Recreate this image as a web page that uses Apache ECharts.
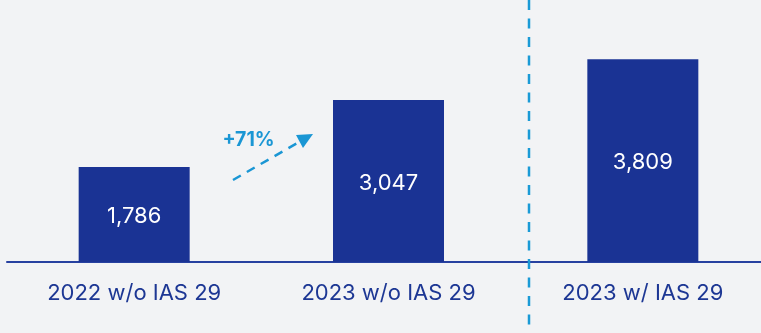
<!DOCTYPE html>
<html>
<head>
<meta charset="utf-8">
<script src="https://cdn.jsdelivr.net/npm/echarts@6/dist/echarts.min.js"></script>
<style>
html,body{margin:0;padding:0;background:#f2f3f5;}
#c{width:761px;height:333px;}
</style>
</head>
<body>
<div id="c"></div>
<script>
const categories = ['2022 w/o IAS 29', '2023 w/o IAS 29', '2023 w/ IAS 29'];
const values = [1786, 3047, 3809];
const growthLabel = '+71%';

const chart = echarts.init(document.getElementById('c'), null, {renderer: 'canvas'});
const FONT = 'Inter, "Noto Sans", sans-serif';
chart.setOption({
  backgroundColor: '#f2f3f5',
  animation: false,
  grid: {left: 7, width: 763, top: 0, bottom: 71, containLabel: false, outerBoundsMode: 'none'},
  xAxis: {
    type: 'category',
    data: categories,
    axisLine: {show: true, lineStyle: {color: '#2741a0', width: 2}},
    axisTick: {show: false},
    axisLabel: {color: '#1d3794', fontSize: 22, fontFamily: FONT, margin: 20}
  },
  yAxis: {
    type: 'value',
    min: 0,
    max: 4925,
    show: false,
    splitLine: {show: false}
  },
  series: [{
    type: 'bar',
    data: values,
    barWidth: 111,
    itemStyle: {color: '#1a3394'},
    label: {
      show: true,
      position: 'inside',
      color: '#ffffff',
      fontSize: 22,
      fontFamily: FONT,
      offset: [0, 2],
      formatter: p => p.value.toLocaleString('en-US')
    }
  }],
  graphic: [
    {type: 'line', shape: {x1: 529, y1: 0, x2: 529, y2: 333},
     style: {stroke: '#1a9ad6', lineWidth: 2.5, lineDash: [10, 8.5]}, z: 10},
    {type: 'line', shape: {x1: 233, y1: 180, x2: 299, y2: 142},
     style: {stroke: '#1a96d4', lineWidth: 2.5, lineDash: [9, 7]}, z: 10},
    {type: 'polygon', shape: {points: [[296, 135], [313, 134], [303, 148]]},
     style: {fill: '#1a96d4'}, z: 10},
    {type: 'text', x: 248.5, y: 140, z: 10,
     style: {text: growthLabel, fill: '#1a96d4', font: 'bold 19.5px ' + FONT, align: 'center', verticalAlign: 'middle'}}
  ]
});
</script>
</body>
</html>
